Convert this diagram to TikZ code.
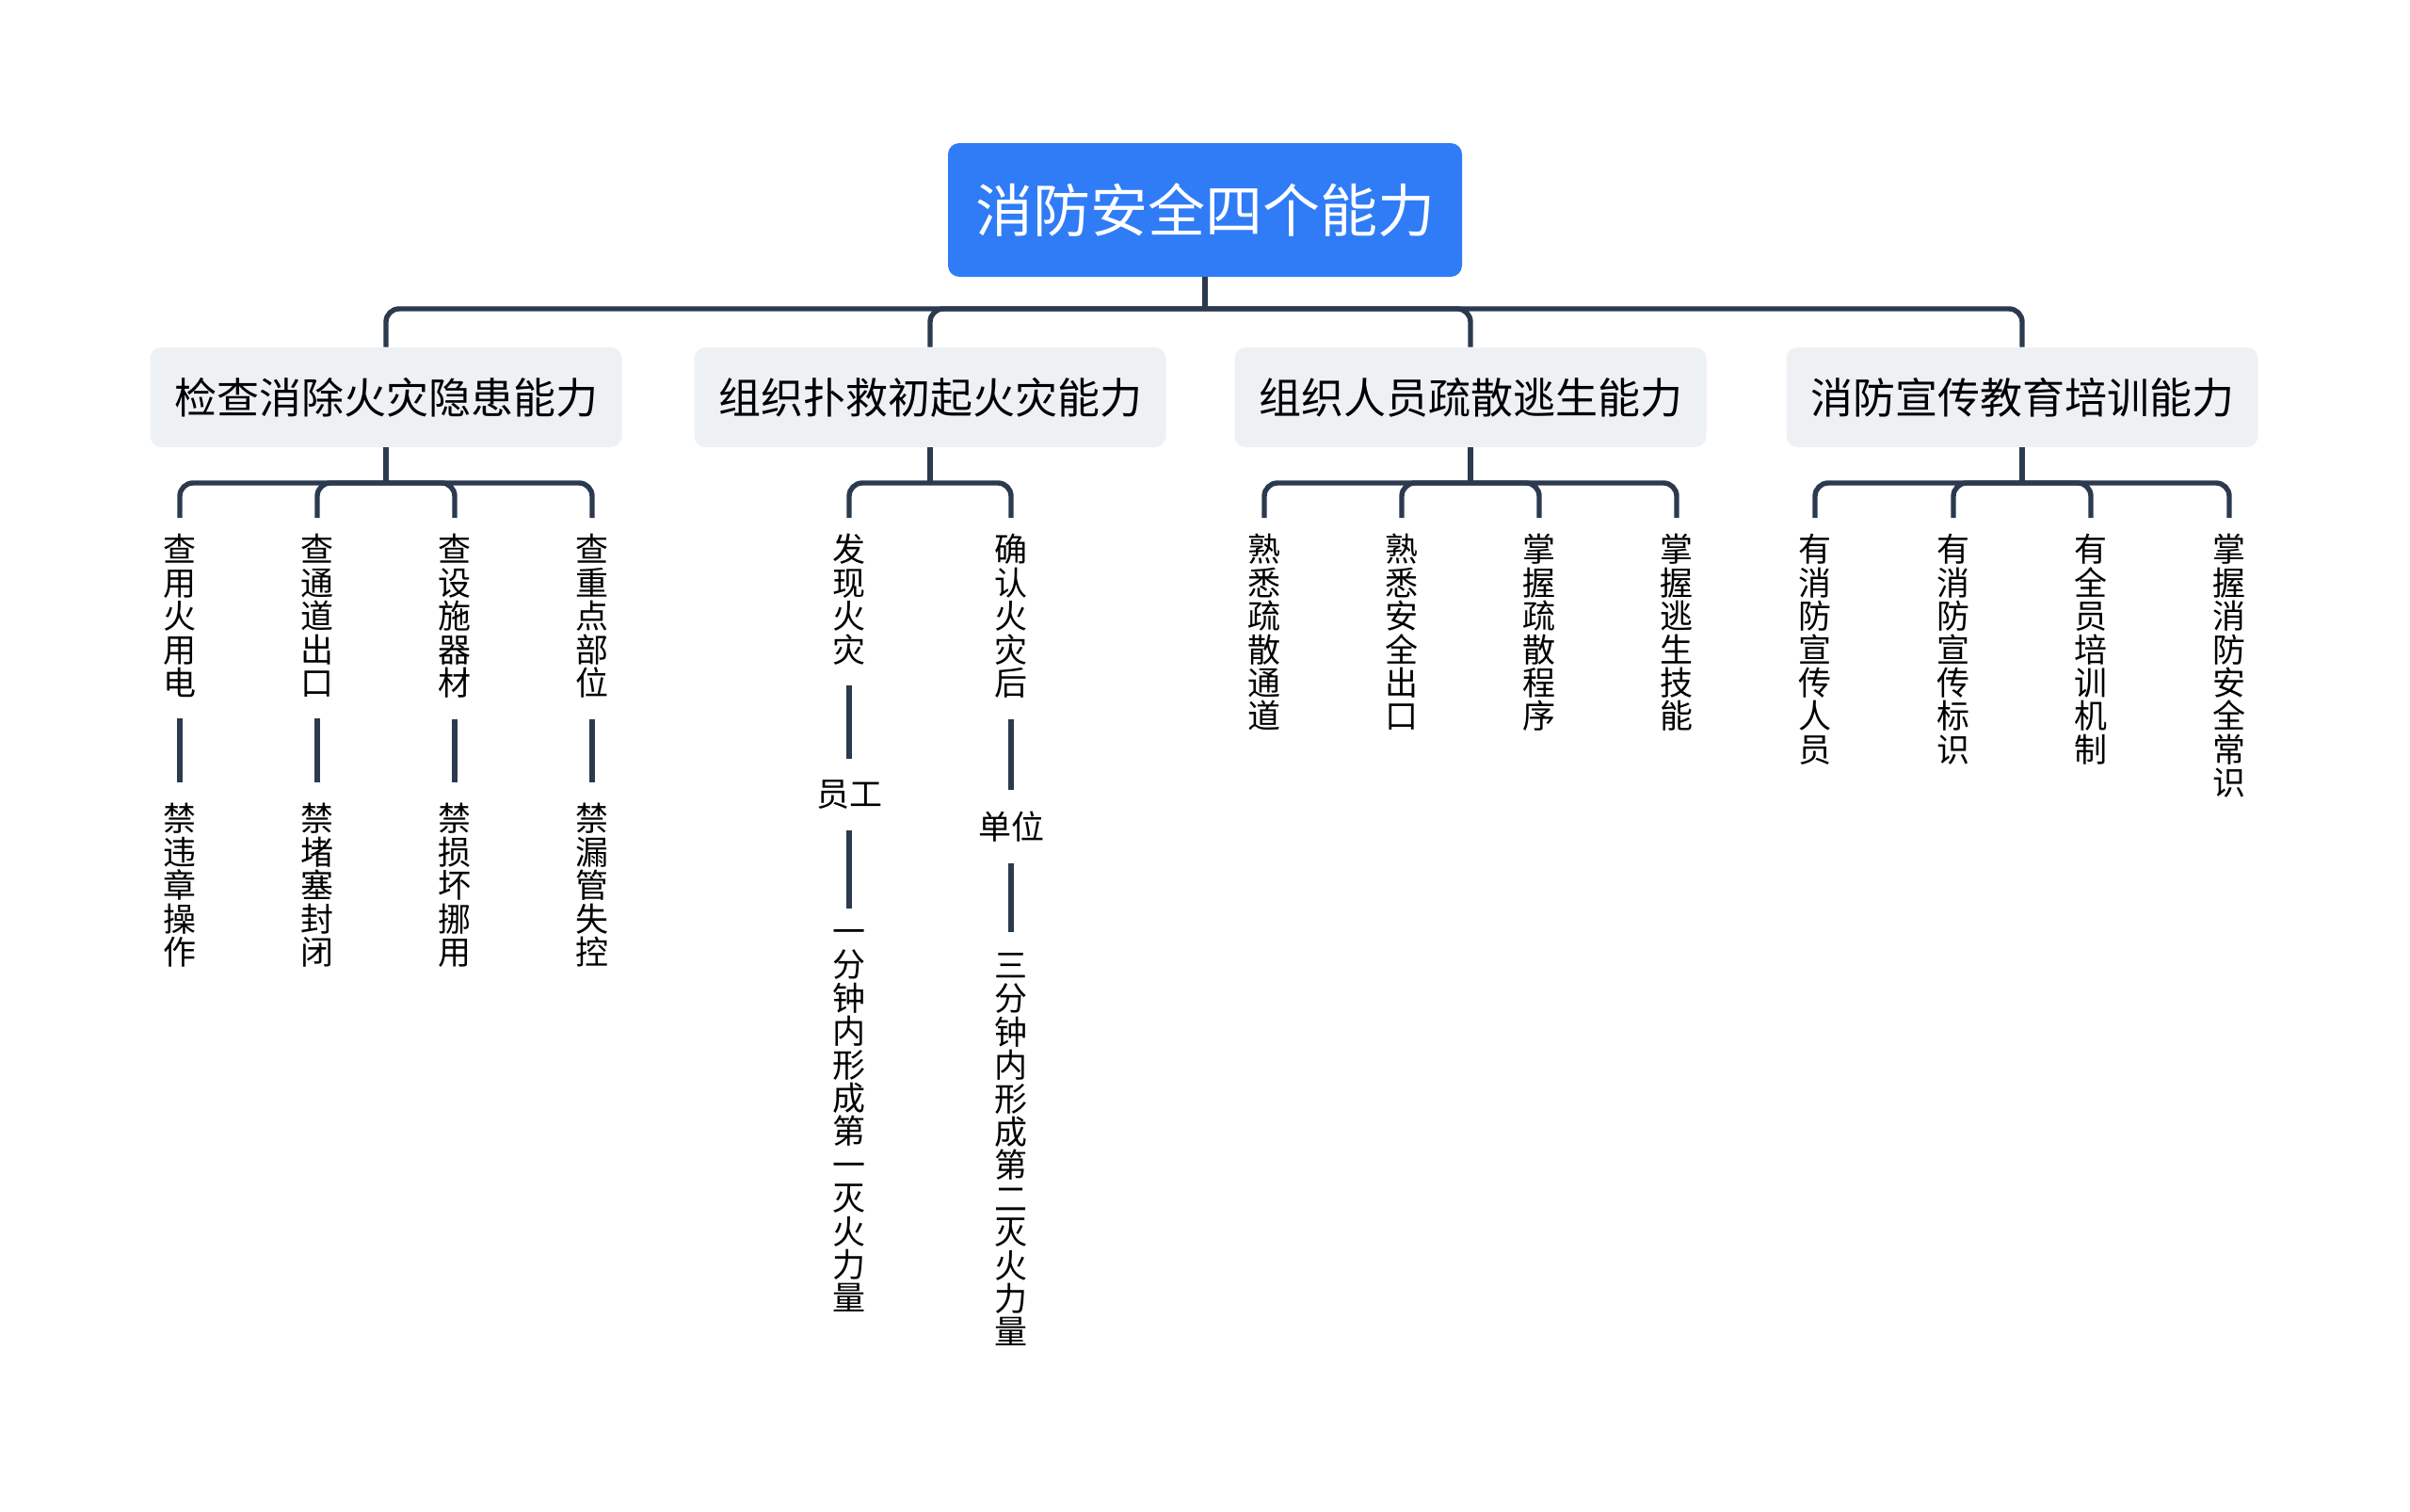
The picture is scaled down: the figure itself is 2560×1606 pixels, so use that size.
\documentclass[tikz,border=0pt]{standalone}
\usepackage{fontspec}
\newfontfamily\cjk{Noto Sans CJK SC}
\usetikzlibrary{positioning}
\definecolor{rootblue}{HTML}{2F7CF6}
\definecolor{boxgray}{HTML}{EEF1F4}
\definecolor{linec}{HTML}{2B3A4E}
\tikzset{
 rootnode/.style={fill=rootblue, rounded corners=6pt, minimum width=273pt, minimum height=71pt, inner sep=0pt, text=white, font=\cjk\fontsize{30.5}{34}\selectfont},
 topicnode/.style={fill=boxgray, rounded corners=6pt, minimum width=250.5pt, minimum height=53pt, inner sep=0pt, text=black, font=\cjk\fontsize{22.5}{26}\selectfont},
 leafv/.style={anchor=north, inner sep=0pt, align=center, text=black, font={\cjk\fontsize{17.5}{17.7}\selectfont\lineskiplimit=-20pt}},
 leafh/.style={inner sep=0pt, text=black, font=\cjk\fontsize{17.5}{20}\selectfont},
 conn/.style={draw=linec, line width=2.7pt},
 branch/.style={conn, rounded corners=7pt},
 leafbranch/.style={conn, rounded corners=7pt, shorten >=8.5pt},
 chain/.style={conn, shorten <=11pt, shorten >=11pt},
}
\begin{document}
\begin{tikzpicture}[x=0.5pt,y=-0.5pt]
\useasboundingbox[fill=white] (0,0) rectangle (2560,1606);
% root
\node[rootnode] (root) at (1280,223) {消防安全四个能力};
\coordinate (rj) at (1280,328);
% topics
\node[topicnode] (b1) at (410,422) {检查消除火灾隐患能力};
\node[topicnode] (b2) at (988,422) {组织扑救初起火灾能力};
\node[topicnode] (b3) at (1562,422) {组织人员疏散逃生能力};
\node[topicnode] (b4) at (2148,422) {消防宣传教育培训能力};
\draw[conn] (root.south) -- (rj);
\foreach \b in {b1,b2,b3,b4}{\draw[branch] (rj) -| (\b.north);}
% junctions
\coordinate (j1) at (410,513);
\coordinate (j2) at (988,513);
\coordinate (j3) at (1562,513);
\coordinate (j4) at (2148,513);
\foreach \b/\j in {b1/j1,b2/j2,b3/j3,b4/j4}{\draw[conn] (\b.south) -- (\j);}
% group 1
\node[leafv] (a1) at (191,567) {查\\用\\火\\用\\电};
\node[leafv] (a2) at (337,567) {查\\通\\道\\出\\口};
\node[leafv] (a3) at (483,567) {查\\设\\施\\器\\材};
\node[leafv] (a4) at (629,567) {查\\重\\点\\部\\位};
\node[leafv] (a1b) at (191,853) {禁\\违\\章\\操\\作};
\node[leafv] (a2b) at (337,853) {禁\\堵\\塞\\封\\闭};
\node[leafv] (a3b) at (483,853) {禁\\损\\坏\\挪\\用};
\node[leafv] (a4b) at (629,853) {禁\\漏\\管\\失\\控};
\foreach \n in {a1,a2,a3,a4}{\draw[leafbranch] (j1) -| (\n.north); \draw[chain] (\n.south) -- (\n b.north);}
% group 2
\node[leafv] (c1) at (902,567) {发\\现\\火\\灾};
\node[leafh] (c2) at (902,844) {员工};
\node[leafv] (c3) at (902,987) {一\\分\\钟\\内\\形\\成\\第\\一\\灭\\火\\力\\量};
\node[leafv] (d1) at (1074,567) {确\\认\\火\\灾\\后};
\node[leafh] (d2) at (1074,878) {单位};
\node[leafv] (d3) at (1074,1012) {三\\分\\钟\\内\\形\\成\\第\\二\\灭\\火\\力\\量};
\draw[leafbranch] (j2) -| (c1.north);
\draw[leafbranch] (j2) -| (d1.north);
\draw[chain] (c1.south) -- (c2.north);
\draw[chain] (c2.south) -- (c3.north);
\draw[chain] (d1.south) -- (d2.north);
\draw[chain] (d2.south) -- (d3.north);
% group 3
\node[leafv] (e1) at (1343,567) {熟\\悉\\疏\\散\\通\\道};
\node[leafv] (e2) at (1489,567) {熟\\悉\\安\\全\\出\\口};
\node[leafv] (e3) at (1635,567) {掌\\握\\疏\\散\\程\\序};
\node[leafv] (e4) at (1781,567) {掌\\握\\逃\\生\\技\\能};
\foreach \n in {e1,e2,e3,e4}{\draw[leafbranch] (j3) -| (\n.north);}
% group 4
\node[leafv] (f1) at (1928,567) {有\\消\\防\\宣\\传\\人\\员};
\node[leafv] (f2) at (2075,567) {有\\消\\防\\宣\\传\\标\\识};
\node[leafv] (f3) at (2221,567) {有\\全\\员\\培\\训\\机\\制};
\node[leafv] (f4) at (2368,567) {掌\\握\\消\\防\\安\\全\\常\\识};
\foreach \n in {f1,f2,f3,f4}{\draw[leafbranch] (j4) -| (\n.north);}
\end{tikzpicture}
\end{document}
